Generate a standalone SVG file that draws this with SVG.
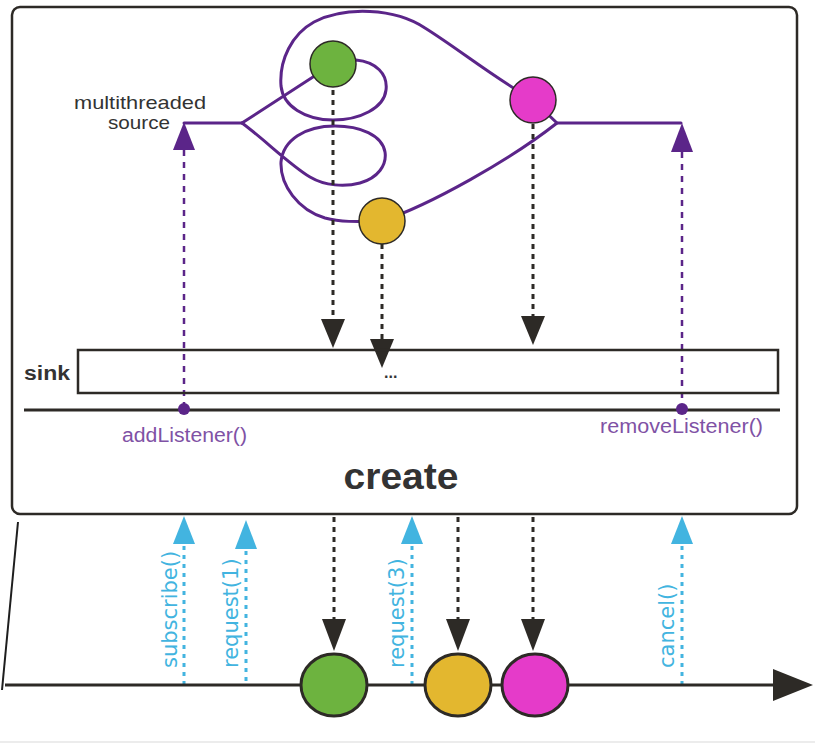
<svg xmlns="http://www.w3.org/2000/svg" width="815" height="744" viewBox="0 0 815 744">
<style>
.frame{fill:none;stroke:#2d2a26;stroke-width:2.5}
.thread{fill:none;stroke:#5b2589;stroke-width:3;stroke-linecap:round}
.pdot{fill:none;stroke:#5b2589;stroke-width:2.5;stroke-dasharray:6 6}
.kdot{fill:none;stroke:#2d2a26;stroke-width:3;stroke-dasharray:5 5}
.bdot{fill:none;stroke:#42b4e0;stroke-width:3;stroke-dasharray:4 5}
.parr{fill:#5b2589}
.karr{fill:#2d2a26}
.barr{fill:#42b4e0}
.ball{stroke:#2d2a26;stroke-width:1.5}
.bigball{stroke:#2d2a26;stroke-width:3}
.g{fill:#6db33f}.y{fill:#e3b72f}.p{fill:#e53bc9}
.lbl{font-family:"Liberation Sans",Arial,sans-serif;fill:#333}
.plbl{font-family:"Liberation Sans",Arial,sans-serif;font-size:20px;fill:#7f52a5}
.blbl{font-family:"DejaVu Sans",Verdana,sans-serif;font-size:21px;fill:#42b4e0}
</style>

<g id="outer-box">
<rect x="12" y="7" width="785" height="507" rx="8" class="frame"/>
</g>
<g id="edge-fragment">
<line x1="18" y1="522" x2="2" y2="690" stroke="#1e1e1e" stroke-width="2"/>
<line x1="0" y1="742" x2="815" y2="742" stroke="#ececec" stroke-width="2"/>
</g>

<g id="connectors">
<path class="thread" d="M 184,123 L 242,123"/>
<path class="thread" d="M 242,123 L 333,64"/>
<path class="thread" d="M 333,62 L 356,60 C 376,62 388,74 386,90 C 384,108 360,120 333,120 C 305,120 283,106 281,86 C 279,60 292,34 314,22 C 345,6 395,8 425,28 C 460,50 490,75 533,100"/>
<path class="thread" d="M 242,123 C 265,140 290,165 310,177 C 325,186 345,187 360,183 C 378,178 387,165 385,152 C 382,135 360,126 335,126 C 305,126 283,140 281,162 C 280,185 298,210 325,218 C 340,222 355,222 382,221"/>
<path class="thread" d="M 382,221 C 430,205 510,160 557,123"/>
<path class="thread" d="M 533,100 L 557,123 L 681,123"/>

<line class="pdot" x1="184" y1="150" x2="184" y2="404"/>
<polygon class="parr" points="184,122 173,150 195,150"/>
<line class="pdot" x1="682" y1="152" x2="682" y2="404"/>
<polygon class="parr" points="682,123 671,152 693,152"/>

<line class="kdot" x1="333" y1="90" x2="333" y2="319"/>
<polygon class="karr" points="321,319 345,319 333,348"/>
<line class="kdot" x1="382" y1="244" x2="382" y2="339"/>
<polygon class="karr" points="370,339 394,339 382,368"/>
<line class="kdot" x1="533" y1="124" x2="533" y2="316"/>
<polygon class="karr" points="521,316 545,316 533,345"/>

<line class="kdot" x1="334" y1="517" x2="334" y2="620"/>
<polygon class="karr" points="322,619 346,619 334,651"/>
<line class="kdot" x1="458" y1="517" x2="458" y2="620"/>
<polygon class="karr" points="446,619 470,619 458,651"/>
<line class="kdot" x1="533" y1="517" x2="533" y2="620"/>
<polygon class="karr" points="521,619 545,619 533,651"/>

<line class="bdot" x1="184" y1="546" x2="184" y2="684"/>
<polygon class="barr" points="184,516 173,544 195,544"/>
<line class="bdot" x1="246" y1="551" x2="246" y2="684"/>
<polygon class="barr" points="246,520 235,549 257,549"/>
<line class="bdot" x1="412" y1="546" x2="412" y2="684"/>
<polygon class="barr" points="412,516 401,544 423,544"/>
<line class="bdot" x1="682" y1="546" x2="682" y2="684"/>
<polygon class="barr" points="682,516 671,544 693,544"/>
</g>

<g id="source-label">
<text class="lbl" x="140" y="109" font-size="19" text-anchor="middle" textLength="132" lengthAdjust="spacingAndGlyphs">multithreaded</text>
<text class="lbl" x="139" y="129" font-size="19" text-anchor="middle" textLength="62" lengthAdjust="spacingAndGlyphs">source</text>
</g>

<g id="node-green-top"><circle cx="333" cy="64" r="23" class="g ball"/></g>
<g id="node-pink-top"><circle cx="533" cy="100" r="23" class="p ball"/></g>
<g id="node-yellow-top"><circle cx="382" cy="221" r="23" class="y ball"/></g>

<g id="sink">
<rect x="78" y="350" width="700" height="43" class="frame"/>
<text class="lbl" x="24" y="380" font-size="20" font-weight="bold" fill="#2d2a26" textLength="46" lengthAdjust="spacingAndGlyphs">sink</text>
<text class="lbl" x="384" y="378" font-size="16" font-weight="bold">...</text>
</g>

<g id="listener-line">
<line x1="24" y1="410" x2="780" y2="410" stroke="#2d2a26" stroke-width="3"/>
<circle cx="184" cy="409" r="6" fill="#5b2589"/>
<circle cx="682" cy="409" r="6" fill="#5b2589"/>
<text class="plbl" x="122" y="442" textLength="125" lengthAdjust="spacingAndGlyphs">addListener()</text>
<text class="plbl" x="600" y="433" textLength="163" lengthAdjust="spacingAndGlyphs">removeListener()</text>
</g>

<g id="create-label">
<text class="lbl" x="401" y="489" font-size="36" font-weight="bold" fill="#2d2a26" text-anchor="middle" textLength="115" lengthAdjust="spacingAndGlyphs">create</text>
</g>

<g id="timeline">
<line x1="5" y1="685" x2="776" y2="685" stroke="#2d2a26" stroke-width="3"/>
<polygon points="773,669 813,685 773,701" fill="#2d2a26"/>
</g>

<g id="node-green-bottom"><ellipse cx="334" cy="685" rx="33" ry="31" class="g bigball"/></g>
<g id="node-yellow-bottom"><ellipse cx="458" cy="685" rx="33" ry="31" class="y bigball"/></g>
<g id="node-pink-bottom"><ellipse cx="535" cy="685" rx="33" ry="31" class="p bigball"/></g>

<g id="request-labels">
<text class="blbl" transform="translate(177,668) rotate(-90)">subscribe()</text>
<text class="blbl" transform="translate(238,668) rotate(-90)">request(1)</text>
<text class="blbl" transform="translate(404,668) rotate(-90)">request(3)</text>
<text class="blbl" transform="translate(674,668) rotate(-90)">cancel()</text>
</g>
</svg>
